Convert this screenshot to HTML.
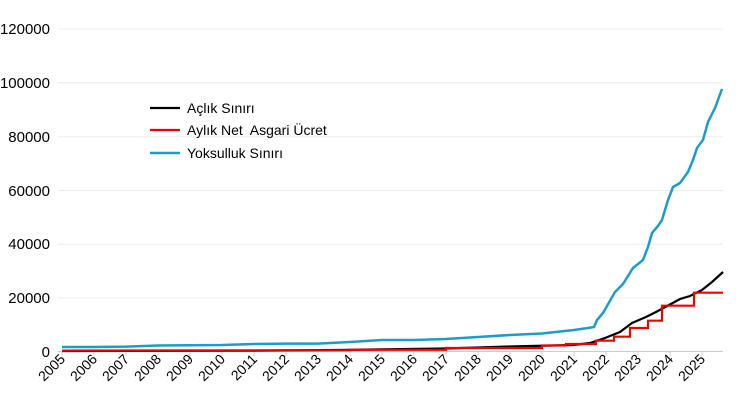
<!DOCTYPE html><html><head><meta charset="utf-8"><style>body{margin:0;background:#fff}svg{display:block;font-family:"Liberation Sans",sans-serif}</style></head><body>
<svg width="750" height="405" viewBox="0 0 750 405">
<g stroke="#ececec" stroke-width="1">
<line x1="58" x2="723" y1="298" y2="298"/><line x1="58" x2="723" y1="244.3" y2="244.3"/><line x1="58" x2="723" y1="190.5" y2="190.5"/><line x1="58" x2="723" y1="136.7" y2="136.7"/><line x1="58" x2="723" y1="82.8" y2="82.8"/><line x1="58" x2="723" y1="29" y2="29"/></g>
<g font-size="15" text-anchor="end" fill="#000">
<text x="50" y="357">0</text><text x="50" y="303">20000</text><text x="50" y="249">40000</text><text x="50" y="196">60000</text><text x="50" y="142">80000</text><text x="50" y="88">100000</text><text x="50" y="34">120000</text></g>
<line x1="58" x2="723" y1="351.5" y2="351.5" stroke="#ccc"/>
<g id="t" stroke="#ccc"></g>
<g font-size="14" text-anchor="end" id="xl"></g>
<polyline fill="none" stroke="#1f9bc8" stroke-width="2.5" points="62,347 93,347 126,346.6 158,345.5 222,345 254,344 286,343.6 318,343.6 350,342 382,340 414,340 446,339 478,337 510,335 542,333.5 574,330 588,328 594,327 597,320 603,313 615,292 623,284 633,268 638,264 643,260 648,247 652,233 658,226 662,220 668,200 673,187 680,183 688,172 693,160 697,148 703,140 708,122 715,108 722,89"/>
<polyline fill="none" stroke="#000" stroke-width="2.2" points="62,351 254,350.6 350,349.8 446,348.5 510,346.5 573,345 590,343 605,338 620,332 632,323 646,317 656,312 669,305 680,299 690,296 702,290 712,282 723,272"/>
<polyline fill="none" stroke="#e00" stroke-width="2.2" points="62,350.6 350,350.2 350,349.8 446,349.8 446,348 542,348 542,345.5 566,345.5 566,344 596,344 596,340.7 614,340.7 614,336.7 630,336.7 630,328 648,328 648,320.7 662,320.7 662,305.7 694,305.7 694,292.7 723,292.7"/>
<g font-size="14"><line x1="150" x2="180" y1="108" y2="108" stroke="#000" stroke-width="2.2"/><text x="187" y="113">Açlık Sınırı</text>
<line x1="150" x2="180" y1="130" y2="130" stroke="#e00" stroke-width="2.2"/><text x="187" y="135" xml:space="preserve">Aylık Net  Asgari Ücret</text>
<line x1="150" x2="180" y1="153" y2="153" stroke="#1f9bc8" stroke-width="2.5"/><text x="187" y="158">Yoksulluk Sınırı</text></g>
<script>
var t=document.getElementById('t'),xl=document.getElementById('xl'),ns="http://www.w3.org/2000/svg";
for(var i=0;i<=20;i++){var x=62+i*32;var l=document.createElementNS(ns,'line');l.setAttribute('x1',x);l.setAttribute('x2',x);l.setAttribute('y1',351.5);l.setAttribute('y2',356);t.appendChild(l);
var s=document.createElementNS(ns,'text');s.setAttribute('transform','translate('+(x+4)+',360) rotate(-45)');s.textContent=2005+i;xl.appendChild(s);}
</script>
</svg></body></html>
